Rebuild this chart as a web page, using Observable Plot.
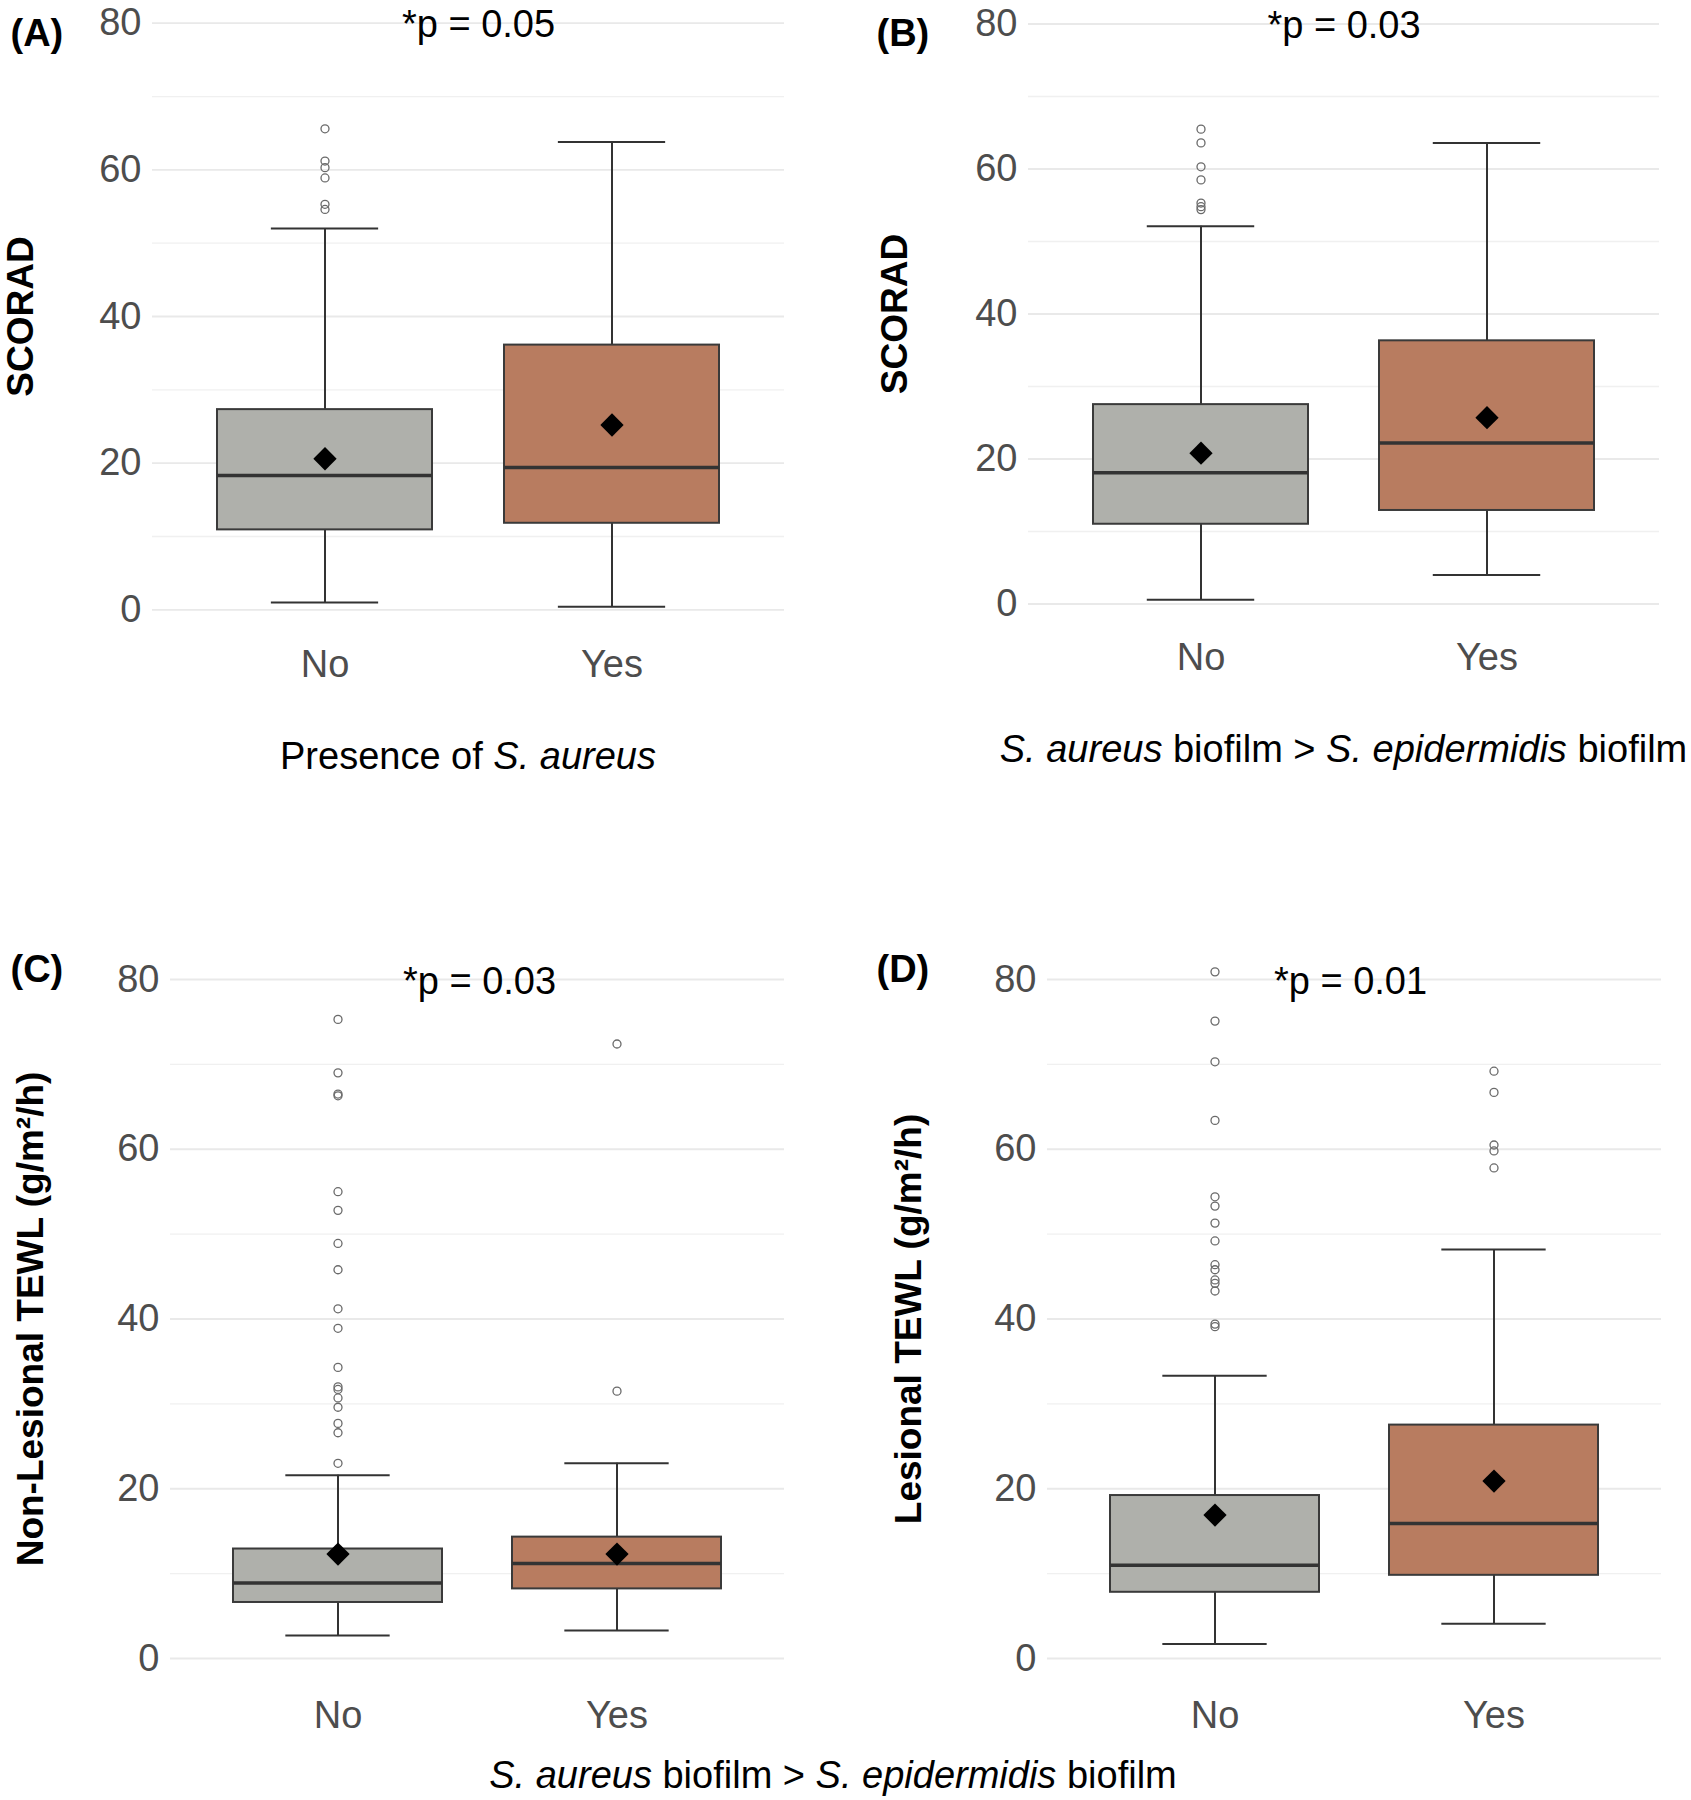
<!DOCTYPE html>
<html><head><meta charset="utf-8">
<script src="https://cdn.jsdelivr.net/npm/d3@7"></script>
<script src="https://cdn.jsdelivr.net/npm/@observablehq/plot@0.6"></script>
<style>
body{margin:0;background:#fff;}
#wrap{position:relative;width:1691px;height:1800px;overflow:hidden;background:#fff;font-family:"Liberation Sans",Arial,sans-serif;}
#wrap svg{position:absolute;overflow:visible;max-width:none;}
</style></head><body><div id="wrap"></div>
<script>
const categories = ["No", "Yes"];
const boxColors = ["#afb0ab", "#b87c60"];
const yTicks = [0, 20, 40, 60, 80];
const yMinorTicks = [10, 30, 50, 70];
const panelLabels = ["(A)", "(B)", "(C)", "(D)"];
const pValues = ["*p = 0.05", "*p = 0.03", "*p = 0.03", "*p = 0.01"];
const yTitles = ["SCORAD", "SCORAD", "Non-Lesional TEWL (g/m²/h)", "Lesional TEWL (g/m²/h)"];

// Panel A: SCORAD by presence of S. aureus
const aLow = [1.0, 0.4], aQ1 = [10.9, 11.8], aMedian = [18.3, 19.4], aQ3 = [27.3, 36.1], aHigh = [52.0, 63.8], aMean = [20.6, 25.2];
const aOutNo = [65.6, 61.2, 60.3, 58.9, 55.3, 54.6], aOutYes = [];
// Panel B: SCORAD by S. aureus biofilm > S. epidermidis biofilm
const bLow = [0.6, 4.0], bQ1 = [11.0, 12.9], bMedian = [18.1, 22.2], bQ3 = [27.5, 36.3], bHigh = [52.1, 63.6], bMean = [20.8, 25.7];
const bOutNo = [65.5, 63.6, 60.3, 58.5, 55.3, 54.8, 54.4], bOutYes = [];
// Panel C: Non-lesional TEWL
const cLow = [2.7, 3.3], cQ1 = [6.6, 8.2], cMedian = [8.9, 11.2], cQ3 = [12.9, 14.3], cHigh = [21.6, 23.0], cMean = [12.3, 12.3];
const cOutNo = [75.3, 69.0, 66.5, 66.3, 55.0, 52.8, 48.9, 45.8, 41.2, 38.9, 34.3, 32.0, 31.7, 30.7, 29.6, 27.7, 26.6, 23.0];
const cOutYes = [72.4, 31.5];
// Panel D: Lesional TEWL
const dLow = [1.7, 4.1], dQ1 = [7.8, 9.8], dMedian = [11.0, 15.9], dQ3 = [19.2, 27.5], dHigh = [33.3, 48.2], dMean = [16.9, 20.9];
const dOutNo = [80.9, 75.1, 70.3, 63.4, 54.4, 53.3, 51.3, 49.2, 46.4, 45.8, 44.6, 44.2, 43.3, 39.4, 39.1];
const dOutYes = [69.2, 66.7, 60.5, 59.8, 57.8];

function summary(low, q1, med, q3, high, mean) {
  return categories.map((c, i) => ({cat: c, low: low[i], q1: q1[i], median: med[i], q3: q3[i], high: high[i], mean: mean[i]}));
}
function outliers(no, yes) {
  return [...no.map(v => ({cat: "No", v})), ...yes.map(v => ({cat: "Yes", v}))];
}

const TOP_SHIFT = 6;
const panels = [
  {stats: summary(aLow, aQ1, aMedian, aQ3, aHigh, aMean), out: outliers(aOutNo, aOutYes),
   left: 0, top: 0, w: 845, h: 800, fx0: 152, fx1: 784, y80: 16.7 + TOP_SHIFT, y0: 603.3 + TOP_SHIFT,
   yTitleX: 21, labelX: 10, labelBase: 39 + TOP_SHIFT, pDx: 10, tickPad: 40},
  {stats: summary(bLow, bQ1, bMedian, bQ3, bHigh, bMean), out: outliers(bOutNo, bOutYes),
   left: 845, top: 0, w: 846, h: 800, fx0: 1028, fx1: 1659, y80: 17.5 + TOP_SHIFT, y0: 597.5 + TOP_SHIFT,
   yTitleX: 895, labelX: 876, labelBase: 39 + TOP_SHIFT, pDx: 0, tickPad: 39},
  {stats: summary(cLow, cQ1, cMedian, cQ3, cHigh, cMean), out: outliers(cOutNo, cOutYes),
   left: 0, top: 880, w: 845, h: 920, fx0: 170, fx1: 784, y80: 979, y0: 1658,
   yTitleX: 31, labelX: 10, labelBase: 981, pDx: 2, tickPad: 43},
  {stats: summary(dLow, dQ1, dMedian, dQ3, dHigh, dMean), out: outliers(dOutNo, dOutYes),
   left: 845, top: 880, w: 846, h: 920, fx0: 1047, fx1: 1661, y80: 979, y0: 1658,
   yTitleX: 909, labelX: 876, labelBase: 981, pDx: -4, tickPad: 43}
];

const wrap = document.getElementById("wrap");
const FONT = "Liberation Sans, Arial, sans-serif";

panels.forEach((p, k) => {
  const mL = p.fx0 - p.left, mR = p.left + p.w - p.fx1, mT = p.y80 - p.top, mB = p.top + p.h - p.y0;
  const bw = (p.fx1 - p.fx0) * 0.75 / 2.2;
  const ln = {stroke: "#333333", strokeWidth: 2};
  const svg = Plot.plot({
    width: p.w, height: p.h, marginLeft: mL, marginRight: mR, marginTop: mT, marginBottom: mB,
    style: {fontFamily: FONT, background: "none", overflow: "visible"},
    x: {domain: categories, paddingInner: 0.25, paddingOuter: 0.225, align: 0.5, axis: null},
    y: {domain: [0, 80], axis: null},
    color: {domain: categories, range: boxColors},
    marks: [
      Plot.gridY(yMinorTicks, {stroke: "#f0f0f0", strokeOpacity: 1, strokeWidth: 1.3}),
      Plot.gridY(yTicks, {stroke: "#e9e9e9", strokeOpacity: 1, strokeWidth: 1.8}),
      Plot.axisY(yTicks, {tickSize: 0, tickPadding: 11, fontSize: 38, fill: "#4d4d4d", label: null}),
      Plot.axisX({tickSize: 0, tickPadding: p.tickPad, fontSize: 38, fill: "#4d4d4d", label: null}),
      Plot.ruleX(p.stats, {x: "cat", y1: "q3", y2: "high", ...ln}),
      Plot.ruleX(p.stats, {x: "cat", y1: "low", y2: "q1", ...ln}),
      Plot.tickY(p.stats, {x: "cat", y: "high", insetLeft: bw / 4, insetRight: bw / 4, ...ln}),
      Plot.tickY(p.stats, {x: "cat", y: "low", insetLeft: bw / 4, insetRight: bw / 4, ...ln}),
      Plot.barY(p.stats, {x: "cat", y1: "q1", y2: "q3", fill: "cat", stroke: "#3a3a3a", strokeWidth: 2}),
      Plot.tickY(p.stats, {x: "cat", y: "median", stroke: "#333333", strokeWidth: 3.5}),
      Plot.dot(p.out, {x: "cat", y: "v", r: 4, stroke: "#6a6a6a", strokeWidth: 1.3, fill: "none"}),
      Plot.dot(p.stats, {x: "cat", y: "mean", symbol: "diamond2", r: 10.5, fill: "black", stroke: "none"}),
      Plot.text([pValues[k]], {text: d => d, frameAnchor: "top", dx: p.pDx, dy: 2, lineAnchor: "middle", fontSize: 38, fill: "black"}),
      Plot.text([yTitles[k]], {text: d => d, frameAnchor: "left", dx: p.yTitleX - p.fx0, rotate: -90, lineAnchor: "middle", textAnchor: "middle", fontWeight: "bold", fontSize: 37, fill: "black"}),
      Plot.text([panelLabels[k]], {text: d => d, frameAnchor: "top-left", textAnchor: "start", lineAnchor: "middle", dx: p.labelX - p.fx0, dy: p.labelBase - p.y80 - 0.32 * 37, fontWeight: "bold", fontSize: 38, fill: "black"})
    ]
  });
  svg.style.left = p.left + "px";
  svg.style.top = p.top + "px";
  wrap.appendChild(svg);

  // x-axis titles with italic species names for panels A and B
  if (k === 0 || k === 1) {
    const t = d3.select(svg).append("text")
      .attr("x", (p.fx0 + p.fx1) / 2 - p.left)
      .attr("y", (k === 0 ? 765 : 758) + TOP_SHIFT - 2 - p.top)
      .attr("text-anchor", "middle").attr("font-size", 38).attr("fill", "black")
      .attr("font-family", FONT);
    if (k === 0) {
      t.append("tspan").text("Presence of ");
      t.append("tspan").attr("font-style", "italic").text("S. aureus");
    } else {
      t.append("tspan").attr("font-style", "italic").text("S. aureus");
      t.append("tspan").text(" biofilm > ");
      t.append("tspan").attr("font-style", "italic").text("S. epidermidis");
      t.append("tspan").text(" biofilm");
    }
  }
});

// shared x-axis title for panels C and D
const cap = d3.select(wrap).append("svg")
  .attr("width", 1691).attr("height", 60)
  .style("left", "0px").style("top", "1740px");
const ct = cap.append("text").attr("x", 833).attr("y", 48)
  .attr("text-anchor", "middle").attr("font-size", 38).attr("fill", "black").attr("font-family", FONT);
ct.append("tspan").attr("font-style", "italic").text("S. aureus");
ct.append("tspan").text(" biofilm > ");
ct.append("tspan").attr("font-style", "italic").text("S. epidermidis");
ct.append("tspan").text(" biofilm");
</script></body></html>
